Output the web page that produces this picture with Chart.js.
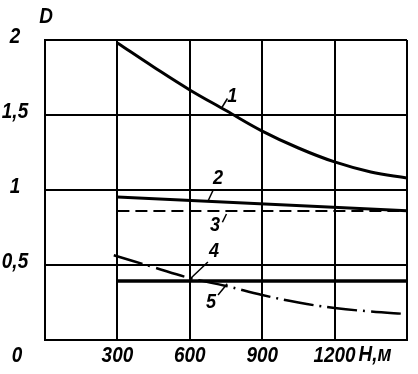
<!DOCTYPE html>
<html>
<head>
<meta charset="utf-8">
<script src="https://cdn.jsdelivr.net/npm/chart.js@4"></script>
<style>
html,body{margin:0;padding:0;background:#fff;}
canvas{display:block;}
</style>
</head>
<body>
<canvas id="c" width="418" height="374"></canvas>
<script>
// Data
const H1 = [300, 450, 600, 750, 900, 1050, 1200, 1350, 1500];
const curve1 = [1.98, 1.82, 1.667, 1.53, 1.393, 1.28, 1.187, 1.12, 1.08];
const H2 = [300, 1500];
const line2 = [0.953, 0.862];
const line3 = [0.86, 0.86];
const line4 = [0.393, 0.393];
const H5 = [285, 450, 600, 750, 900, 1050, 1200, 1350, 1500];
const curve5 = [0.565, 0.485, 0.413, 0.36, 0.30, 0.25, 0.213, 0.19, 0.173];

const xTickValues = [300, 600, 900, 1200];
const xTickLabels = ['300', '600', '900', '1200'];
const yTickValues = [2, 1.5, 1, 0.5, 0];
const yTickLabels = ['2', '1,5', '1', '0,5', '0'];
const xTitle = 'H,м';
const yTitle = 'D';

// curve labels: [H, D] and leader [H1, D1, H2, D2]
const curveLabels = ['1', '2', '3', '4', '5'];
const labelPos = [[776, 1.625], [717, 1.08], [704, 0.767], [700, 0.593], [688, 0.253]];
const leaders = [
  [733, 1.55, 756, 1.61],
  [675, 0.925, 697, 1.0],
  [735, 0.785, 752, 0.84],
  [675, 0.52, 603, 0.41],
  [717, 0.30, 755, 0.375]
];

const pts = (xs, ys) => xs.map((x, i) => ({x: x, y: ys[i]}));

const FAMILY = '"Liberation Sans", "DejaVu Sans", sans-serif';
const FONT = 'italic bold 22px ' + FAMILY;
const FONT_SMALL = 'italic bold 21px ' + FAMILY;
const SX = 0.86;

function narrowText(ctx, text, x, y) {
  ctx.save();
  ctx.translate(x, y);
  ctx.scale(SX, 1);
  ctx.fillText(text, 0, 0);
  ctx.restore();
}

const textPlugin = {
  id: 'texts',
  afterDraw(chart) {
    const ctx = chart.ctx;
    const xs = chart.scales.x, ys = chart.scales.y;
    ctx.save();
    ctx.fillStyle = '#000';
    ctx.strokeStyle = '#000';
    ctx.font = FONT;
    ctx.textAlign = 'center';
    ctx.textBaseline = 'middle';
    // y tick labels
    yTickValues.forEach((v, i) => {
      let y = ys.getPixelForValue(v) - 3;
      let x = 15;
      if (v === 0) { y = ys.getPixelForValue(v) + 16; x = 17; }
      narrowText(ctx, yTickLabels[i], x, y);
    });
    // x tick labels
    const xy = ys.getPixelForValue(0) + 16;
    xTickValues.forEach((v, i) => {
      narrowText(ctx, xTickLabels[i], xs.getPixelForValue(v), xy);
    });
    ctx.textAlign = 'left';
    narrowText(ctx, xTitle, xs.getPixelForValue(1200) + 24, xy - 1);
    ctx.textAlign = 'center';
    narrowText(ctx, yTitle, xs.left + 1, 17);
    // curve labels
    ctx.font = FONT_SMALL;
    curveLabels.forEach((t, i) => {
      narrowText(ctx, t, xs.getPixelForValue(labelPos[i][0]), ys.getPixelForValue(labelPos[i][1]));
    });
    ctx.lineWidth = 1.5;
    leaders.forEach(l => {
      ctx.beginPath();
      ctx.moveTo(xs.getPixelForValue(l[0]), ys.getPixelForValue(l[1]));
      ctx.lineTo(xs.getPixelForValue(l[2]), ys.getPixelForValue(l[3]));
      ctx.stroke();
    });
    ctx.restore();
  }
};

new Chart(document.getElementById('c'), {
  type: 'line',
  data: {
    datasets: [
      {data: pts(H1, curve1), borderColor: '#000', borderWidth: 3, tension: 0.4, pointRadius: 0},
      {data: pts(H2, line2), borderColor: '#000', borderWidth: 3, pointRadius: 0},
      {data: pts(H2, line3), borderColor: '#000', borderWidth: 2, borderDash: [12, 6], pointRadius: 0},
      {data: pts(H2, line4), borderColor: '#000', borderWidth: 3.5, pointRadius: 0},
      {data: pts(H5, curve5), borderColor: '#000', borderWidth: 2.5, borderDash: [30, 6, 2, 6], tension: 0.4, pointRadius: 0}
    ]
  },
  options: {
    responsive: false,
    animation: false,
    devicePixelRatio: 1,
    layout: {padding: {left: 45, right: 11, top: 40, bottom: 34}},
    plugins: {legend: {display: false}, tooltip: {enabled: false}},
    scales: {
      x: {
        type: 'linear', min: 0, max: 1500,
        ticks: {display: false, stepSize: 300},
        grid: {color: '#000', lineWidth: 2, drawTicks: false},
        border: {color: '#000', width: 2},
        afterFit: s => { s.height = 0; }
      },
      y: {
        type: 'linear', min: 0, max: 2,
        ticks: {display: false, stepSize: 0.5},
        grid: {color: '#000', lineWidth: 2, drawTicks: false},
        border: {color: '#000', width: 2},
        afterFit: s => { s.width = 0; }
      }
    }
  },
  plugins: [textPlugin]
});
</script>
</body>
</html>
